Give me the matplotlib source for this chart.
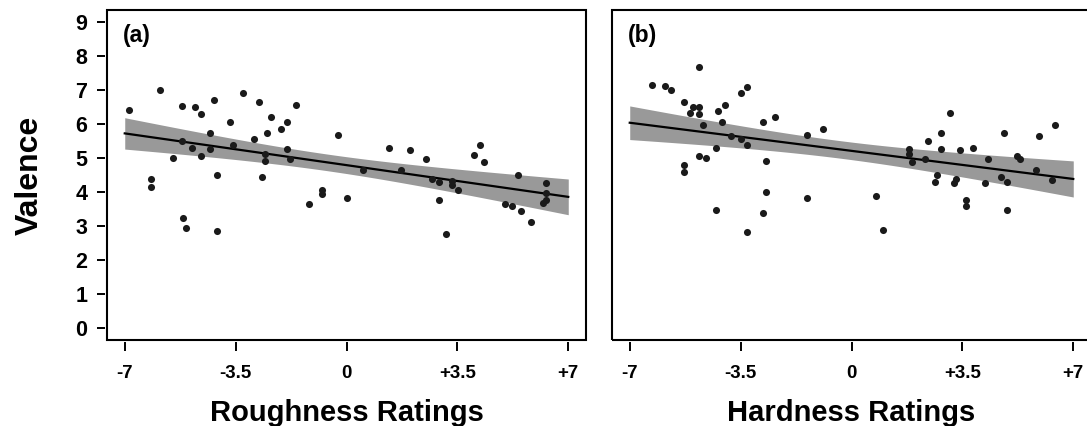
import numpy as np
import matplotlib.pyplot as plt
from matplotlib.patches import Rectangle

plt.rcParams['font.family'] = ['Liberation Sans', 'DejaVu Sans']
plt.rcParams['font.weight'] = 'bold'

# Roughness ratings vs valence
rough_x = [-6.86, -5.89, -5.18, -4.78, -4.58, -4.17, -3.28, -2.76, -1.58, -2.39,
           -1.89, -2.08, -3.69, -4.30, -0.28, -5.18, -4.88, -4.30, -3.59, -2.91,
           -2.50, -1.89, -5.48, -4.58, -2.58, -2.58, -1.78, 1.33, 2.02, 2.52,
           4.02, 4.21, 4.33, 0.52, 1.71, -6.18, -6.18, -4.09, -2.68, -5.16,
           -5.06, -4.09, -1.19, -0.78, -0.78, 0.01, 2.71, 2.92, 2.92, 3.32,
           3.32, 3.52, 3.14, 5.41, 5.01, 5.21, 5.51, 5.81, 6.31, 6.31,
           6.31, 6.20]
rough_y = [6.42, 7.01, 6.52, 6.49, 6.29, 6.70, 6.91, 6.64, 6.55, 6.22,
           6.05, 5.85, 6.06, 5.73, 5.69, 5.49, 5.30, 5.27, 5.37, 5.56,
           5.74, 5.27, 5.01, 5.06, 5.11, 4.91, 4.96, 5.29, 5.23, 4.96,
           5.10, 5.37, 4.88, 4.66, 4.66, 4.39, 4.15, 4.49, 4.44, 3.22,
           2.94, 2.85, 3.64, 4.05, 3.95, 3.81, 4.39, 4.30, 3.76, 4.32,
           4.20, 4.06, 2.76, 4.50, 3.66, 3.60, 3.44, 3.11, 4.27, 3.96,
           3.76, 3.69]

# Hardness ratings vs valence
hard_x = [-6.30, -5.90, -5.70, -4.81, -5.29, -5.00, -4.81, -5.10, -4.81, -4.69,
          -4.21, -4.00, -4.09, -3.50, -3.29, -3.79, -3.50, -3.29, -4.29, -4.81,
          -4.59, -5.29, -5.29, -2.80, -2.40, -2.69, -1.39, -0.89, 1.82, 1.82,
          1.92, 2.32, 2.43, 2.81, 3.12, 2.81, 3.42, 3.82, 4.32, 4.81,
          5.22, 5.32, 5.92, 6.41, 5.82, -2.69, -4.29, -2.80, -3.29, -1.39,
          0.78, 0.99, 2.71, 2.62, 3.22, 3.31, 3.62, 3.62, 4.22, 4.71,
          4.91, 4.91, 6.32]
hard_y = [7.14, 7.13, 7.01, 7.68, 6.65, 6.49, 6.49, 6.32, 6.29, 5.96,
          6.39, 6.55, 6.06, 6.91, 7.10, 5.66, 5.57, 5.37, 5.29, 5.07,
          5.01, 4.79, 4.60, 6.06, 6.21, 4.91, 5.68, 5.86, 5.27, 5.12,
          4.88, 4.97, 5.49, 5.75, 6.33, 5.27, 5.25, 5.29, 4.97, 5.74,
          5.07, 4.97, 5.66, 5.97, 4.65, 4.00, 3.47, 3.39, 2.81, 3.81,
          3.87, 2.88, 4.50, 4.30, 4.27, 4.38, 3.76, 3.60, 4.27, 4.45,
          4.30, 3.47, 4.36]

xticks = [-7, -3.5, 0, 3.5, 7]
xticklabels = ['-7', '-3.5', '0', '+3.5', '+7']
yticks = list(range(10))

t_crit = 2.0  # 95% two-sided, df ~ 60


def fit_band(x, y, xs):
    x = np.asarray(x)
    y = np.asarray(y)
    n = len(x)
    slope, intercept = np.polyfit(x, y, 1)
    resid = y - (intercept + slope * x)
    s = np.sqrt(np.sum(resid ** 2) / (n - 2))
    sxx = np.sum((x - x.mean()) ** 2)
    se = s * np.sqrt(1 / n + (xs - x.mean()) ** 2 / sxx)
    yhat = intercept + slope * xs
    return yhat, yhat - t_crit * se, yhat + t_crit * se


fig = plt.figure(figsize=(10.87, 4.26), dpi=100)
ax1 = fig.add_axes([107 / 1087, 86 / 426, 479 / 1087, 330 / 426])
ax2 = fig.add_axes([612 / 1087, 86 / 426, 479 / 1087, 330 / 426])

xs = np.linspace(-7, 7, 200)
panels = [(ax1, rough_x, rough_y, '(a)', 'Roughness Ratings'),
          (ax2, hard_x, hard_y, '(b)', 'Hardness Ratings')]

for ax, x, y, tag, xlabel in panels:
    yhat, lo, hi = fit_band(x, y, xs)
    ax.fill_between(xs, lo, hi, color='#999999', lw=0, zorder=1)
    ax.plot(xs, yhat, color='black', lw=1.6, zorder=2)
    ax.scatter(x, y, s=26, color='#1a1a1a', lw=0, zorder=3)

    ax.set_xlim(-7.56, 7.56)
    ax.set_ylim(-0.36, 9.36)

    # box around plotting region, ticks hang just outside it
    for side in ['top', 'right', 'bottom', 'left']:
        ax.spines[side].set_visible(False)
    ax.spines['bottom'].set_position(('outward', 1.5))
    ax.spines['left'].set_position(('outward', 1.2))
    ax.add_patch(Rectangle((0, 0), 1, 1, transform=ax.transAxes, fill=False,
                           lw=1.5, ec='black', clip_on=False, zorder=5))

    ax.set_xticks(xticks)
    ax.set_xticklabels(xticklabels, fontsize=13.5, fontweight='bold')
    ax.tick_params(axis='x', length=6.5, width=1.4, pad=10)
    ax.set_xlabel(xlabel, fontsize=21, fontweight='bold', labelpad=12)

    ax.text(0.033, 0.957, tag, transform=ax.transAxes, ha='left', va='top',
            fontsize=16.5, fontweight='bold')

ax1.set_yticks(yticks)
ax1.set_yticklabels([str(v) for v in yticks], fontsize=15.5, fontweight='bold')
ax1.tick_params(axis='y', length=5.8, width=1.4, pad=7)
ax1.set_ylabel('Valence', fontsize=23, fontweight='bold', labelpad=22)

ax2.set_yticks([])

fig.savefig('out.png', dpi=100)
